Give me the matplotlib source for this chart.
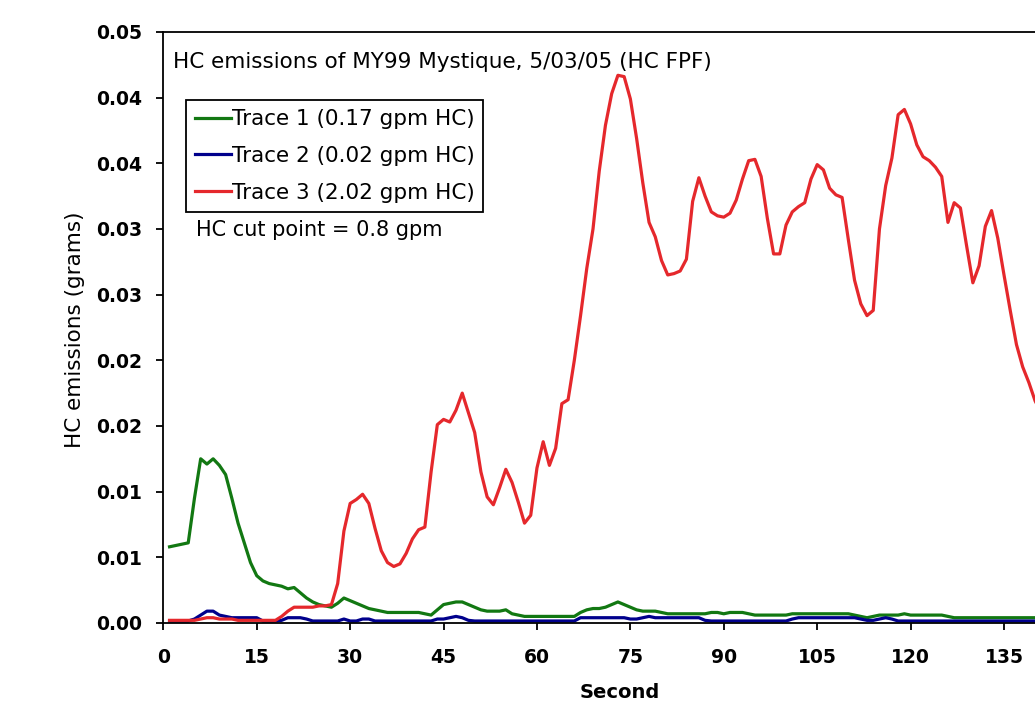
import matplotlib
matplotlib.use("Agg")
import matplotlib.pyplot as plt

plt.rcParams['font.family'] = ['DejaVu Sans']

# seconds 1..141
seconds = list(range(1, 142))

# Trace 1 (green)
trace1 = [0.0058, 0.0059, 0.0060, 0.0061, 0.0095, 0.0125, 0.0121, 0.0125, 0.0120, 0.0113,
          0.0095, 0.0076, 0.0061, 0.0046, 0.0036, 0.0032, 0.0030, 0.0029, 0.0028, 0.0026,
          0.0027, 0.0023, 0.0019, 0.0016, 0.0014, 0.0013, 0.0012, 0.0015, 0.0019, 0.0017,
          0.0015, 0.0013, 0.0011, 0.0010, 0.0009, 0.0008, 0.0008, 0.0008, 0.0008, 0.0008,
          0.0008, 0.0007, 0.0006, 0.0010, 0.0014, 0.0015, 0.0016, 0.0016, 0.0014, 0.0012,
          0.0010, 0.0009, 0.0009, 0.0009, 0.0010, 0.0007, 0.0006, 0.0005, 0.0005, 0.0005,
          0.0005, 0.0005, 0.0005, 0.0005, 0.0005, 0.0005, 0.0008, 0.0010, 0.0011, 0.0011,
          0.0012, 0.0014, 0.0016, 0.0014, 0.0012, 0.0010, 0.0009, 0.0009, 0.0009, 0.0008,
          0.0007, 0.0007, 0.0007, 0.0007, 0.0007, 0.0007, 0.0007, 0.0008, 0.0008, 0.0007,
          0.0008, 0.0008, 0.0008, 0.0007, 0.0006, 0.0006, 0.0006, 0.0006, 0.0006, 0.0006,
          0.0007, 0.0007, 0.0007, 0.0007, 0.0007, 0.0007, 0.0007, 0.0007, 0.0007, 0.0007,
          0.0006, 0.0005, 0.0004, 0.0005, 0.0006, 0.0006, 0.0006, 0.0006, 0.0007, 0.0006,
          0.0006, 0.0006, 0.0006, 0.0006, 0.0006, 0.0005, 0.0004, 0.0004, 0.0004, 0.0004,
          0.0004, 0.0004, 0.0004, 0.0004, 0.0004, 0.0004, 0.0004, 0.0004, 0.0004, 0.0004,
          0.0004]

# Trace 2 (blue)
trace2 = [0.00015, 0.00015, 0.00015, 0.00015, 0.0003, 0.0006, 0.0009, 0.0009, 0.0006, 0.0005,
          0.0004, 0.0004, 0.0004, 0.0004, 0.0004, 0.00015, 0.00015, 0.00015, 0.0002, 0.0004,
          0.0004, 0.0004, 0.0003, 0.00015, 0.00015, 0.00015, 0.00015, 0.00015, 0.0003, 0.00015,
          0.00015, 0.0003, 0.0003, 0.00015, 0.00015, 0.00015, 0.00015, 0.00015, 0.00015, 0.00015,
          0.00015, 0.00015, 0.00015, 0.0003, 0.0003, 0.0004, 0.0005, 0.0004, 0.0002, 0.00015,
          0.00015, 0.00015, 0.00015, 0.00015, 0.00015, 0.00015, 0.00015, 0.00015, 0.00015, 0.00015,
          0.00015, 0.00015, 0.00015, 0.00015, 0.00015, 0.00015, 0.0004, 0.0004, 0.0004, 0.0004,
          0.0004, 0.0004, 0.0004, 0.0004, 0.0003, 0.0003, 0.0004, 0.0005, 0.0004, 0.0004,
          0.0004, 0.0004, 0.0004, 0.0004, 0.0004, 0.0004, 0.0002, 0.00015, 0.00015, 0.00015,
          0.00015, 0.00015, 0.00015, 0.00015, 0.00015, 0.00015, 0.00015, 0.00015, 0.00015, 0.00015,
          0.0003, 0.0004, 0.0004, 0.0004, 0.0004, 0.0004, 0.0004, 0.0004, 0.0004, 0.0004,
          0.0004, 0.0003, 0.0002, 0.0002, 0.0003, 0.0004, 0.0003, 0.00015, 0.00015, 0.00015,
          0.00015, 0.00015, 0.00015, 0.00015, 0.00015, 0.00015, 0.00015, 0.00015, 0.00015, 0.00015,
          0.00015, 0.00015, 0.00015, 0.00015, 0.00015, 0.00015, 0.00015, 0.00015, 0.00015, 0.00015,
          0.00015]

# Trace 3 (red)
trace3 = [0.0002, 0.0002, 0.0002, 0.0002, 0.0002, 0.0003, 0.0004, 0.0004, 0.0003, 0.0003,
          0.0003, 0.0002, 0.0002, 0.0002, 0.0002, 0.0002, 0.0002, 0.0002, 0.0005, 0.0009,
          0.0012, 0.0012, 0.0012, 0.0012, 0.0013, 0.0013, 0.0014, 0.0030, 0.0070, 0.0091,
          0.0094, 0.0098, 0.0091, 0.0072, 0.0055, 0.0046, 0.0043, 0.0045, 0.0053, 0.0064,
          0.0071, 0.0073, 0.0115, 0.0151, 0.0155, 0.0153, 0.0162, 0.0175, 0.0160, 0.0145,
          0.0115, 0.0096, 0.0090, 0.0103, 0.0117, 0.0107, 0.0092, 0.0076, 0.0082, 0.0118,
          0.0138, 0.0120, 0.0133, 0.0167, 0.0170, 0.0200, 0.0234, 0.0270, 0.0300, 0.0344,
          0.0379, 0.0403, 0.0417, 0.0416, 0.0399, 0.0369, 0.0335, 0.0305, 0.0294, 0.0276,
          0.0265, 0.0266, 0.0268, 0.0277, 0.0321, 0.0339, 0.0325, 0.0313, 0.0310, 0.0309,
          0.0312, 0.0322, 0.0338, 0.0352, 0.0353, 0.0340, 0.0308, 0.0281, 0.0281, 0.0303,
          0.0313, 0.0317, 0.0320, 0.0338, 0.0349, 0.0345, 0.0331, 0.0326, 0.0324, 0.0292,
          0.0261, 0.0243, 0.0234, 0.0238, 0.0300, 0.0333, 0.0354, 0.0387, 0.0391, 0.0380,
          0.0364, 0.0355, 0.0352, 0.0347, 0.0340, 0.0305, 0.0320, 0.0316, 0.0287, 0.0259,
          0.0272, 0.0302, 0.0314, 0.0293, 0.0265, 0.0238, 0.0212, 0.0195, 0.0183, 0.0169,
          0.0160]

labels = ['Trace 1 (0.17 gpm HC)', 'Trace 2 (0.02 gpm HC)', 'Trace 3 (2.02 gpm HC)']
xticks = [0, 15, 30, 45, 60, 75, 90, 105, 120, 135]
yticks = [0.0, 0.005, 0.010, 0.015, 0.020, 0.025, 0.030, 0.035, 0.040, 0.045]
ytick_labels = ['0.00', '0.01', '0.01', '0.02', '0.02', '0.03', '0.03', '0.04', '0.04', '0.05']

fig = plt.figure(figsize=(10.35, 7.04), dpi=100)
ax = fig.add_axes([0.1578, 0.1151, 0.9025, 0.8395])

ax.plot(seconds, trace1, color='#127812', lw=2.3, label=labels[0])
ax.plot(seconds, trace2, color='#00008c', lw=2.3, label=labels[1])
ax.plot(seconds, trace3, color='#e5282c', lw=2.3, label=labels[2])

ax.set_xlim(0, 150)
ax.set_ylim(0, 0.045)
ax.set_xticks(xticks)
ax.set_xticklabels([str(t) for t in xticks])
ax.set_yticks(yticks)
ax.set_yticklabels(ytick_labels)
ax.tick_params(direction='out', length=5, width=1.3, labelsize=13.5, pad=10)
ax.tick_params(axis='x', pad=13)
for lab in ax.get_xticklabels() + ax.get_yticklabels():
    lab.set_fontweight('bold')
for s in ax.spines.values():
    s.set_linewidth(1.3)

ax.text(0.010, 0.950, 'HC emissions of MY99 Mystique, 5/03/05 (HC FPF)', transform=ax.transAxes,
        fontsize=15.5, va='center', ha='left')
fig.text(196 / 1035, 1 - 230 / 704, 'HC cut point = 0.8 gpm', fontsize=15, va='center', ha='left')

leg = ax.legend(loc='upper left', bbox_to_anchor=(186 / 1035, 1 - 100 / 704), bbox_transform=fig.transFigure,
                borderaxespad=0, fancybox=False, fontsize=15.5, handlelength=1.65, handletextpad=0.05,
                borderpad=0.42, labelspacing=0.78, framealpha=1)
leg.get_frame().set_edgecolor('black')
leg.get_frame().set_linewidth(1.3)

fig.text(75 / 1035, 1 - 330 / 704, 'HC emissions (grams)', rotation=90, fontsize=15.5, va='center', ha='center')
fig.text(620 / 1035, 1 - 692 / 704, 'Second', fontsize=14, fontweight='bold', va='center', ha='center')

fig.savefig('out.png', dpi=100)
